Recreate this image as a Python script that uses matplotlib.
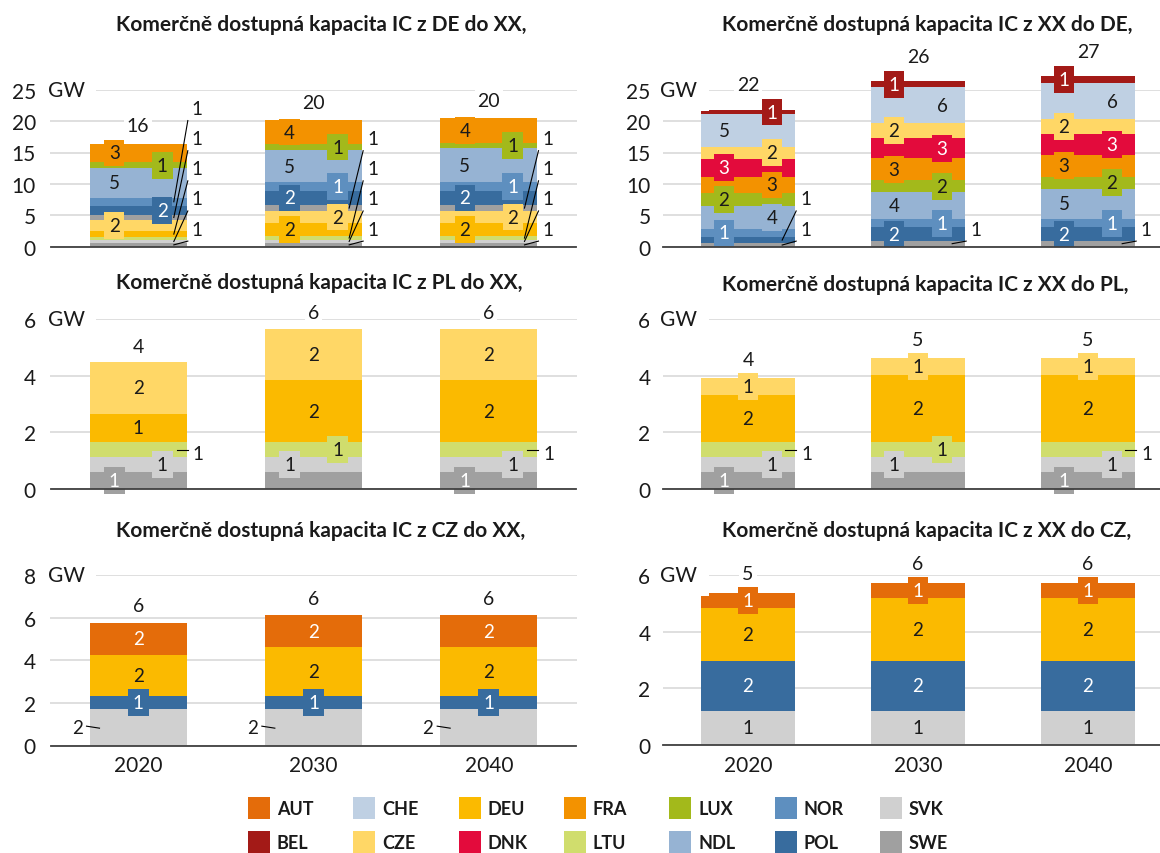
import matplotlib.pyplot as plt
from matplotlib.patches import Rectangle

plt.rcParams['font.family'] = ['Lato', 'DejaVu Sans']

years = ['2020', '2030', '2040']

countries = ['AUT', 'BEL', 'CHE', 'CZE', 'DEU', 'DNK', 'FRA',
             'LTU', 'LUX', 'NDL', 'NOR', 'POL', 'SVK', 'SWE']
colors = {'AUT': '#E46C0A', 'BEL': '#A31A17', 'CHE': '#BFD0E3', 'CZE': '#FFD766',
          'DEU': '#FBBA00', 'DNK': '#E30B3C', 'FRA': '#F39200', 'LTU': '#D0DD6D',
          'LUX': '#A3B91B', 'NDL': '#96B3D3', 'NOR': '#5E8FBF', 'POL': '#386C9E',
          'SVK': '#D0D0D0', 'SWE': '#A0A0A0'}
dark = {'AUT', 'BEL', 'DNK', 'NOR', 'POL', 'SWE'}

# stacks listed from the bottom up, one value per year (GW)
de_out_names = ['SWE', 'SVK', 'LTU', 'DEU', 'CZE', 'SWE', 'POL', 'NOR', 'NDL', 'LUX', 'FRA']
de_out_values = [
    [0.58, 0.58, 0.58],
    [0.50, 0.53, 0.53],
    [0.45, 0.53, 0.53],
    [0.95, 2.12, 2.12],
    [1.85, 1.91, 1.91],
    [0.65, 0.96, 0.96],
    [1.50, 2.28, 2.28],
    [1.35, 1.33, 1.33],
    [4.65, 5.15, 5.41],
    [0.95, 0.96, 0.85],
    [3.00, 3.82, 3.93],
]

de_in_names = ['SWE', 'POL', 'NOR', 'NDL', 'LUX', 'FRA', 'DNK', 'CZE', 'CHE', 'BEL']
de_in_values = [
    [0.53, 0.96, 0.96],
    [1.06, 2.12, 2.12],
    [1.22, 1.33, 1.33],
    [3.61, 4.25, 4.78],
    [2.12, 1.96, 1.96],
    [2.60, 3.45, 3.45],
    [2.87, 3.24, 3.34],
    [1.91, 2.34, 2.39],
    [5.15, 5.73, 5.73],
    [0.74, 0.96, 1.06],
]

pl_out_names = ['SWE', 'SVK', 'LTU', 'DEU', 'CZE']
pl_out_values = [
    [0.60, 0.60, 0.60],
    [0.52, 0.52, 0.52],
    [0.53, 0.53, 0.53],
    [1.01, 2.20, 2.20],
    [1.81, 1.81, 1.81],
]

pl_in_names = ['SWE', 'SVK', 'LTU', 'DEU', 'CZE']
pl_in_values = [
    [0.60, 0.60, 0.60],
    [0.52, 0.52, 0.52],
    [0.53, 0.53, 0.53],
    [1.66, 2.37, 2.37],
    [0.61, 0.61, 0.61],
]

cz_out_names = ['SVK', 'POL', 'DEU', 'AUT']
cz_out_values = [
    [1.72, 1.72, 1.72],
    [0.58, 0.58, 0.58],
    [1.95, 2.30, 2.30],
    [1.50, 1.50, 1.50],
]

cz_in_names = ['SVK', 'POL', 'DEU', 'AUT']
cz_in_values = [
    [1.21, 1.21, 1.21],
    [1.77, 1.77, 1.77],
    [1.86, 2.21, 2.21],
    [0.52, 0.52, 0.52],
]

# where each data label goes: L/C/R inside the bar, O = outside with a leader line
de_out_pos = [['O', 'O', 'O'], ['O', 'O', 'O'], ['', 'O', 'O'], ['O', 'L', 'L'],
              ['L', 'R', 'R'], ['O', 'O', 'O'], ['R', 'L', 'L'], ['O', 'R', 'R'],
              ['L', 'L', 'L'], ['R', 'R', 'R'], ['L', 'L', 'L']]
de_in_pos = [['O', 'O', 'O'], ['O', 'L', 'L'], ['L', 'R', 'R'], ['R', 'L', 'L'],
             ['L', 'R', 'R'], ['R', 'L', 'L'], ['L', 'R', 'R'], ['R', 'L', 'L'],
             ['L', 'R', 'R'], ['R', 'L', 'L']]
pl_pos = [['L', '', 'L'], ['R', 'L', 'R'], ['O', 'R', 'O'], ['C', 'C', 'C'], ['C', 'C', 'C']]
cz_out_pos = [['O', 'O', 'O'], ['C', 'C', 'C'], ['C', 'C', 'C'], ['C', 'C', 'C']]
cz_in_pos = [['C', 'C', 'C'], ['C', 'C', 'C'], ['C', 'C', 'C'], ['C', 'C', 'C']]

W, H = 1160, 854
fig = plt.figure(figsize=(W / 100, H / 100), dpi=100)
fig.patch.set_facecolor('white')

# pixel layout: (left, right, top, bottom) of each plot area
charts = [
    ('Komerčně dostupná kapacita IC z DE do XX,', de_out_names, de_out_values, de_out_pos,
     25, 5, (50.5, 576.5, 90.7, 247.7), (321, 25), 18, 'stack', False),
    ('Komerčně dostupná kapacita IC z XX do DE,', de_in_names, de_in_values, de_in_pos,
     25, 5, (663, 1173, 90.7, 247.7), (927, 25), 25, 'stack', False),
    ('Komerčně dostupná kapacita IC z PL do XX,', pl_out_names, pl_out_values, pl_pos,
     6, 2, (50.5, 576.5, 320, 490), (319, 283), 16, 'side', False),
    ('Komerčně dostupná kapacita IC z XX do PL,', pl_in_names, pl_in_values, pl_pos,
     6, 2, (663, 1173, 320, 490), (925, 285), 18, 'side', False),
    ('Komerčně dostupná kapacita IC z CZ do XX,', cz_out_names, cz_out_values, cz_out_pos,
     8, 2, (50.5, 576.5, 576, 746.5), (321, 531), 17, 'left', True),
    ('Komerčně dostupná kapacita IC z XX do CZ,', cz_in_names, cz_in_values, cz_in_pos,
     6, 2, (663, 1173, 576, 746), (927, 531), 20, 'left', True),
]

bw = 0.555
for title, names, values, pos, ymax, step, box, tpos, toff, leader, show_years in charts:
    x0, x1, y0, y1 = box
    ax = fig.add_axes([x0 / W, 1 - y1 / H, (x1 - x0) / W, (y1 - y0) / H])
    ppx = (x1 - x0) / 3.0
    ppy = (y1 - y0) / ymax
    xs = [0, 1, 2]
    bottoms = [0.0, 0.0, 0.0]
    nout = [0, 0, 0]
    for s, (name, vals, ps) in enumerate(zip(names, values, pos)):
        col = colors[name]
        ax.bar(xs, vals, bw, bottom=bottoms, color=col, edgecolor='none', zorder=2,
               clip_on=False)
        for j in xs:
            v = vals[j]
            mid = bottoms[j] + v / 2
            p = ps[j]
            txt = str(int(v + 0.5))
            if p in ('L', 'C', 'R'):
                dx = {'L': -24, 'C': 0, 'R': 24}[p] / ppx
                ax.text(j + dx, mid, txt, ha='center', va='center', fontsize=13.5,
                        color='white' if name in dark else '#1A1A1A', zorder=3 + s,
                        bbox=dict(boxstyle='square,pad=0.26', fc=col, ec='none'))
            elif p == 'O':
                right = j + bw / 2
                left = j - bw / 2
                if leader == 'stack':
                    ty = 2.8 + 4.8 * nout[j]
                    nout[j] += 1
                    ax.text(right + 5 / ppx, ty, txt, ha='left', va='center',
                            fontsize=13.5, color='#1A1A1A', zorder=40)
                    ax.plot([right + 1 / ppx, right - 13 / ppx], [ty - 12 / ppy, mid],
                            color='black', lw=0.8, clip_on=False, zorder=40)
                elif leader == 'side':
                    ax.plot([right - 10 / ppx, right + 1 / ppx], [mid, mid],
                            color='black', lw=0.8, clip_on=False, zorder=40)
                    ax.text(right + 6 / ppx, mid - 4 / ppy, txt, ha='left', va='center',
                            fontsize=13.5, color='#1A1A1A', zorder=40)
                else:
                    ax.plot([left - 3 / ppx, left + 10 / ppx], [mid + 1 / ppy, mid - 1 / ppy],
                            color='black', lw=0.8, clip_on=False, zorder=40)
                    ax.text(left - 7 / ppx, mid, txt, ha='right', va='center',
                            fontsize=13.5, color='#1A1A1A', zorder=40)
        bottoms = [b + v for b, v in zip(bottoms, vals)]

    for j in xs:
        ax.text(j, bottoms[j] + toff / ppy, str(int(bottoms[j] + 0.5)), ha='center',
                va='center', fontsize=14, color='#1A1A1A', zorder=30,
                bbox=dict(boxstyle='square,pad=0.15', fc='white', ec='none'))

    ax.set_xlim(-0.5, 2.5)
    ax.set_ylim(0, ymax)
    ax.set_yticks(range(0, ymax + 1, step))
    ax.set_xticks(xs)
    ax.set_xticklabels(years if show_years else [''] * 3)
    ax.tick_params(axis='both', length=0, labelsize=15, colors='#1A1A1A')
    ax.tick_params(axis='y', pad=10.5 if x0 < 100 else 9)
    ax.tick_params(axis='x', pad=7)
    ax.yaxis.grid(True, color='#D9D9D9', lw=1.2)
    ax.set_axisbelow(True)
    for side in ('top', 'right', 'left'):
        ax.spines[side].set_visible(False)
    ax.spines['bottom'].set_color('#404040')
    ax.spines['bottom'].set_linewidth(1.3)
    ax.spines['bottom'].set_zorder(5)
    ax.text(-2.5 / (x1 - x0), ymax, 'GW', transform=ax.get_yaxis_transform(),
            ha='left', va='center', fontsize=15, color='#1A1A1A', zorder=4,
            bbox=dict(boxstyle='square,pad=0.55', fc='white', ec='none'))

    fig.text(tpos[0] / W, 1 - tpos[1] / H, title, ha='center', va='center',
             fontsize=15, fontweight='bold', color='#1A1A1A')

# legend, two rows filled column by column
for i, name in enumerate(countries):
    lx = 248 + 105.3 * (i // 2)
    ly = 798 + 34 * (i % 2)
    fig.add_artist(Rectangle((lx / W, 1 - (ly + 22) / H), 22 / W, 22 / H,
                             transform=fig.transFigure, fc=colors[name], ec='none'))
    fig.text((lx + 29) / W, 1 - (ly + 12) / H, name, ha='left', va='center',
             fontsize=13, fontweight='bold', color='#1A1A1A')

plt.savefig('out.png', dpi=100)
